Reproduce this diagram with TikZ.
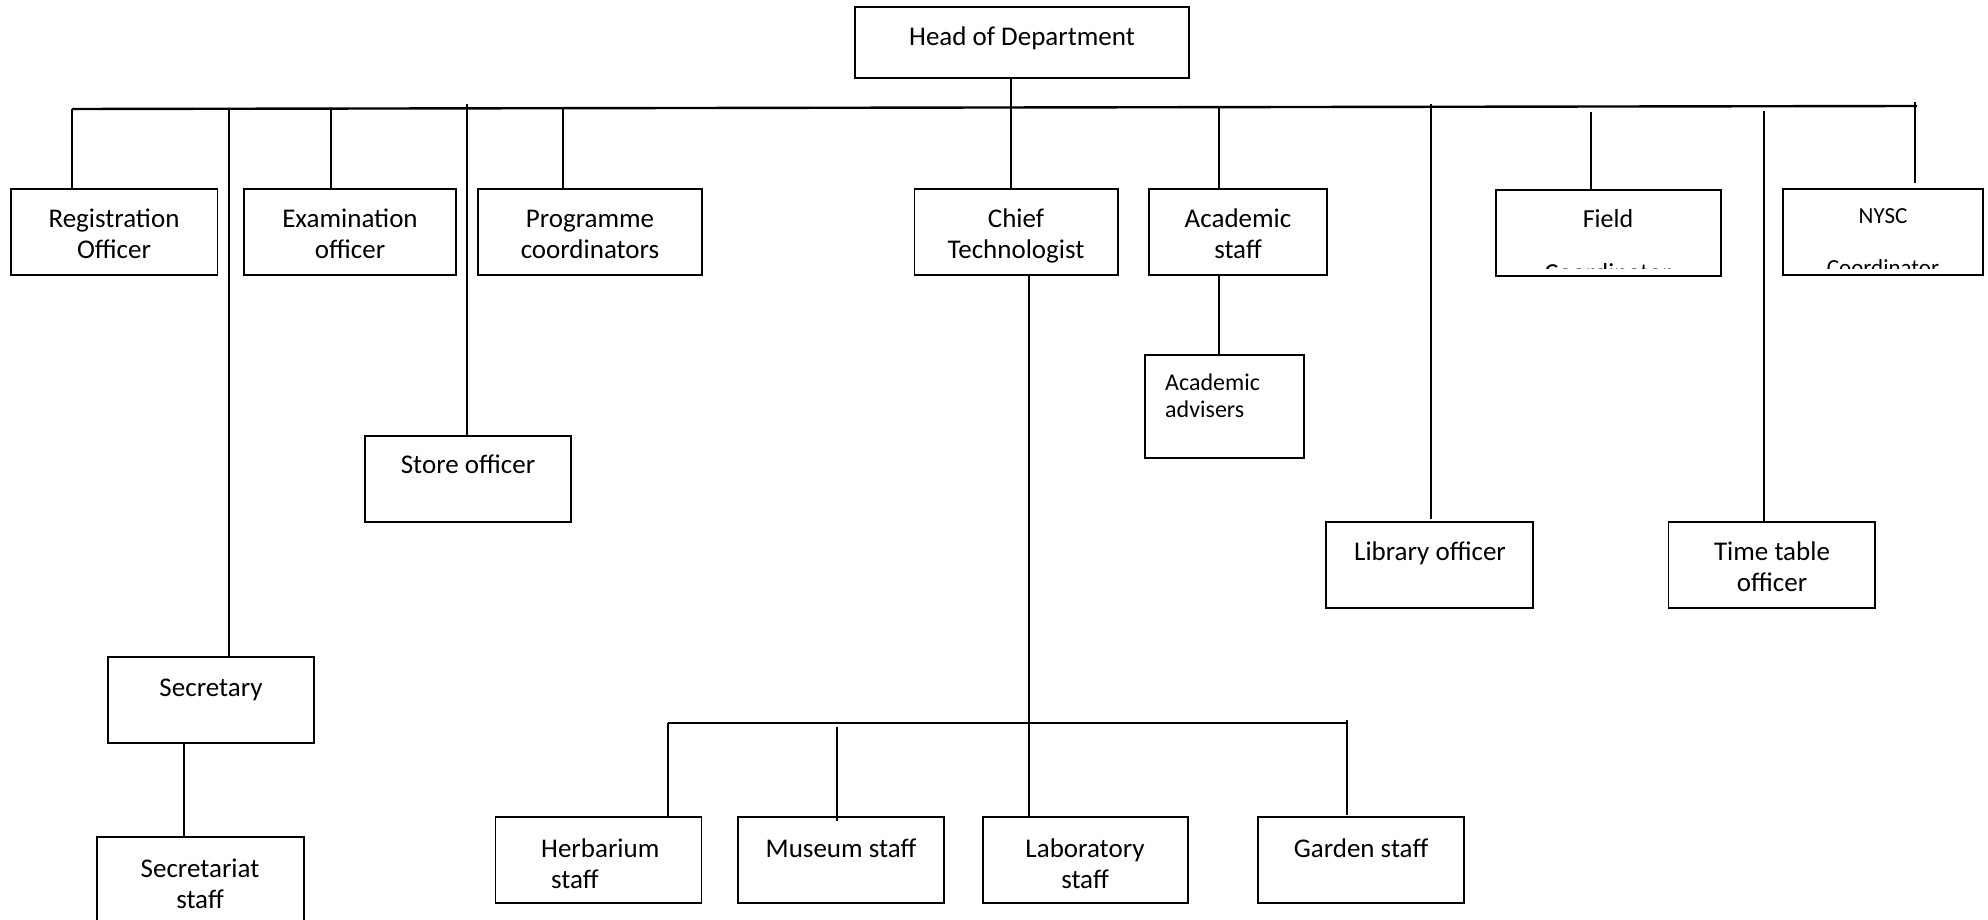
\documentclass[tikz,border=0pt]{standalone}
\usepackage{fontspec}
\setmainfont{Carlito}
\newcommand\mkbox[5]{\node[box, minimum width={#4-#2}, minimum height={#5-#3}] (#1) at ({(#2+#4)/2},{(#3+#5)/2}) {};}
\newcommand\twol[2]{\begin{tabular}[t]{@{}c@{}}#1\\#2\end{tabular}}
\begin{document}
\begin{tikzpicture}[x=1pt,y=-1pt,
  box/.style={draw, line width=1.8pt, inner sep=0pt},
  conn/.style={line width=2pt},
  bus/.style={line width=2.4pt},
  txt/.style={anchor=base, inner sep=0pt, font=\fontsize{27}{31}\selectfont},
  smalltxt/.style={anchor=base west, inner sep=0pt, font=\fontsize{24}{27}\selectfont},
]
\useasboundingbox (0,0) rectangle (1988,920);
\fill[white] (0,0) rectangle (1988,920);
\clip (0,0) rectangle (1988,920);

% boxes
\mkbox{head}{855}{7}{1189}{78}
\mkbox{reg}{11}{189}{217.5}{275}
\mkbox{exam}{243.6}{189}{456}{275}
\mkbox{prog}{478}{189}{702}{275}
\mkbox{chief}{914.5}{189}{1118}{275}
\mkbox{acad}{1149}{189}{1327}{275}
\mkbox{field}{1496}{190}{1721}{276}
\mkbox{nysc}{1783}{189}{1983}{275}
\mkbox{store}{365}{436}{571}{522}
\mkbox{advis}{1145}{355}{1304}{458}
\mkbox{lib}{1326}{522}{1533}{608}
\mkbox{tt}{1668.5}{522}{1875}{608}
\mkbox{sec}{108}{657}{314}{743}
\mkbox{secst}{97}{837}{303.6}{940}
\mkbox{herb}{495.5}{817}{701.5}{903}
\mkbox{mus}{738}{817}{944}{903}
\mkbox{lab}{983}{817}{1188}{903}
\mkbox{gard}{1258}{817}{1464}{903}

% texts
\node[txt] (headT) at (1022,46) {Head of Department};
\node[txt] (regT) at (114,227) {\twol{Registration}{Officer}};
\node[txt] (examT) at (350,227) {\twol{Examination}{officer}};
\node[txt] (progT) at (590,227) {\twol{Programme}{coordinators}};
\node[txt] (chiefT) at (1016,227) {\twol{Chief}{Technologist}};
\node[txt] (acadT) at (1238,227) {\twol{Academic}{staff}};
\node[txt] (storeT) at (468,473) {Store officer};
\node[smalltxt] (advisT) at (1165,390) {\begin{tabular}[t]{@{}l@{}}Academic\\advisers\end{tabular}};
\node[txt] (libT) at (1430,560) {Library officer};
\node[txt] (ttT) at (1772,560) {\twol{Time table}{officer}};
\node[txt] (secT) at (211,696) {Secretary};
\node[txt] (secstT) at (200,877) {\twol{Secretariat}{staff}};
\node[txt, anchor=base west] (herbT) at (541,857) {\begin{tabular}[t]{@{}l@{}}Herbarium\\\hspace*{10pt}staff\end{tabular}};
\node[txt] (musT) at (841,857) {Museum staff};
\node[txt] (labT) at (1085,857) {\twol{Laboratory}{staff}};
\node[txt] (gardT) at (1361,857) {Garden staff};
\begin{scope}
  \clip (1496,190) rectangle (1721,268);
  \node[txt, font=\fontsize{26}{30}\selectfont] (fieldT) at (1608,227) {Field};
  \node[txt, font=\fontsize{26}{30}\selectfont] (fieldT2) at (1608,281) {Coordinator};
\end{scope}
\begin{scope}
  \clip (1783,189) rectangle (1983,268);
  \node[txt, font=\fontsize{23}{27}\selectfont] (nyscT) at (1883,223) {NYSC};
  \node[txt, font=\fontsize{23}{27}\selectfont] (nyscT2) at (1883,275) {Coordinator};
\end{scope}

% main bus
\coordinate (busL) at (72,109);
\coordinate (busR) at (1917,106);
\draw[bus] (busL) -- (busR);

% connectors from bus
\draw[conn] (busL) -- (busL |- reg.north);
\coordinate (cSec) at (229,109);
\draw[conn] (cSec) -- (cSec |- sec.north);
\coordinate (cExam) at (331,108.5);
\draw[conn] (cExam) -- (cExam |- exam.north);
\coordinate (cStore) at (467,104);
\draw[conn] (cStore) -- (cStore |- store.north);
\coordinate (cProg) at (562.5,108);
\draw[conn] (cProg) -- (cProg |- prog.north);
\coordinate (cChief) at (1011,0);
\draw[conn] (cChief |- head.south) -- (cChief |- chief.north);
\coordinate (cAcad) at (1218.6,107.5);
\draw[conn] (cAcad) -- (cAcad |- acad.north);
\draw[conn] (cAcad |- acad.south) -- (cAcad |- advis.north);
\coordinate (cLib) at (1431,104);
\coordinate (cLibE) at (1431,519);
\draw[conn] (cLib) -- (cLibE);
\coordinate (cField) at (1591,112);
\draw[conn] (cField) -- (cField |- field.north);
\coordinate (cTT) at (1763.5,111);
\draw[conn] (cTT) -- (cTT |- tt.north);
\coordinate (cNysc) at (1915,102);
\coordinate (cNyscE) at (1915,183);
\draw[conn] (cNysc) -- (cNyscE);

% secretary chain
\coordinate (cSS) at (184,0);
\draw[conn] (cSS |- sec.south) -- (cSS |- secst.north);

% chief technologist subtree
\coordinate (cLab) at (1029,0);
\draw[conn] (cLab |- chief.south) -- (cLab |- lab.north);
\coordinate (bbL) at (668,723);
\coordinate (bbR) at (1347,723);
\draw[bus] (bbL) -- (bbR);
\draw[conn] (bbL) -- (bbL |- herb.north);
\coordinate (cMus) at (837,727);
\coordinate (cMusE) at (837,821);
\draw[conn] (cMus) -- (cMusE);
\coordinate (cGard) at (1347,720);
\coordinate (cGardE) at (1347,815);
\draw[conn] (cGard) -- (cGardE);
\end{tikzpicture}
\end{document}
